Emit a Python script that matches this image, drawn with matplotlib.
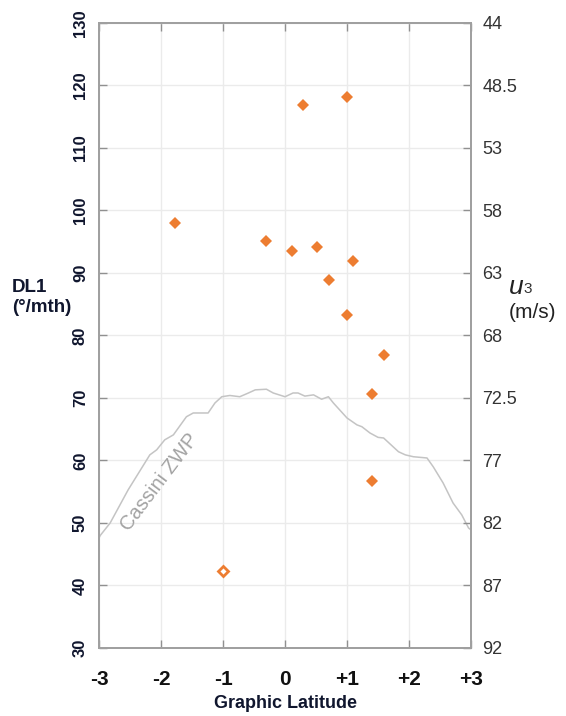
import numpy as np
import matplotlib.pyplot as plt

plt.rcParams['font.family'] = ['Liberation Sans', 'DejaVu Sans']

# DL1 drift rate points (filled) and the one open point
lat = [0.29, 1.0, -1.77, -0.31, 0.11, 0.52, 1.10, 0.71, 1.0, 1.60, 1.40, 1.40]
dl1 = [116.9, 118.2, 98.0, 95.1, 93.5, 94.2, 91.9, 88.9, 83.3, 76.9, 70.6, 56.7]
lat_open = [-1.0]
dl1_open = [42.3]

# Cassini zonal wind profile, in DL1 units
zwp_lat = [-3.0, -2.98, -2.82, -2.53, -2.18, -2.07, -1.94, -1.80, -1.59, -1.48, -1.24,
           -1.13, -1.02, -0.89, -0.73, -0.59, -0.48, -0.30, -0.19, 0.0, 0.13, 0.21,
           0.32, 0.46, 0.59, 0.70, 0.78, 1.0, 1.16, 1.24, 1.37, 1.50, 1.59, 1.83,
           1.94, 2.07, 2.29, 2.39, 2.55, 2.71, 2.85, 2.96, 3.0]
zwp_dl1 = [47.6, 48.0, 50.0, 55.3, 60.9, 61.7, 63.3, 64.1, 67.0, 67.6, 67.6,
           69.2, 70.2, 70.4, 70.2, 70.8, 71.3, 71.4, 70.8, 70.2, 70.8, 70.8,
           70.3, 70.5, 69.8, 70.2, 69.2, 66.8, 65.7, 65.4, 64.4, 63.7, 63.6, 61.4,
           60.9, 60.6, 60.4, 59.0, 56.4, 53.2, 51.3, 49.2, 48.9]

xticks = [-3, -2, -1, 0, 1, 2, 3]
xlabels = ['-3', '-2', '-1', '0', '+1', '+2', '+3']
yticks = [30, 40, 50, 60, 70, 80, 90, 100, 110, 120, 130]
u3_labels = ['92', '87', '82', '77', '72.5', '68', '63', '58', '53', '48.5', '44']

orange = '#ED7D31'
navy = '#10162e'
spine = '#a0a0a0'

fig = plt.figure(figsize=(5.66, 7.16), dpi=100)
ax = fig.add_axes([0.1749, 0.0950, 0.6573, 0.8729])

ax.plot(zwp_lat, zwp_dl1, color='#c4c4c4', lw=1.1, zorder=2)
ax.plot(lat, dl1, 'D', color=orange, ms=6.3, mew=0, zorder=3)
ax.plot(lat_open, dl1_open, 'D', mfc='white', mec=orange, ms=5.2, mew=2, zorder=3)

ax.text(-2.03, 56.6, 'Cassini ZWP', rotation=53, color='#a3a3a3', fontsize=14.5,
        ha='center', va='center', rotation_mode='anchor')

ax.set_xlim(-3, 3)
ax.set_ylim(30, 130)
ax.set_xticks(xticks)
ax.set_xticklabels(xlabels, fontsize=15, fontweight='bold', color='#111111')
ax.set_yticks(yticks)
ax.set_yticklabels([str(v) for v in yticks], fontsize=12, fontweight='bold',
                   color=navy, rotation=90, va='center')
ax.grid(True, color='#ebebeb', lw=1)
ax.set_axisbelow(True)
ax.tick_params(direction='in', length=6, width=1, color='#909090', top=True,
               pad=8)
ax.tick_params(axis='x', pad=16)
for s in ax.spines.values():
    s.set_color(spine)
    s.set_linewidth(1.4)

ax2 = ax.twinx()
ax2.set_ylim(30, 130)
ax2.set_yticks(yticks)
ax2.set_yticklabels(u3_labels, fontsize=13, color='#333333')
ax2.tick_params(direction='in', length=6, width=1, color='#909090', pad=8)
for s in ax2.spines.values():
    s.set_color(spine)
    s.set_linewidth(1.4)

ax.set_xlabel('Graphic Latitude', fontsize=13, fontweight='bold', color=navy,
              labelpad=4)

fig.text(0.021, 0.584, 'DL1\n(°/mth)', ha='left', va='center', fontsize=13.5,
         fontweight='bold', color=navy, linespacing=1.25)
fig.text(0.899, 0.599, 'u', ha='left', va='center', fontsize=19, style='italic',
         color='#222222')
fig.text(0.925, 0.597, '3', ha='left', va='center', fontsize=11, color='#333333')
fig.text(0.899, 0.564, '(m/s)', ha='left', va='center', fontsize=15,
         color='#222222')

fig.savefig('out.png', dpi=100)
